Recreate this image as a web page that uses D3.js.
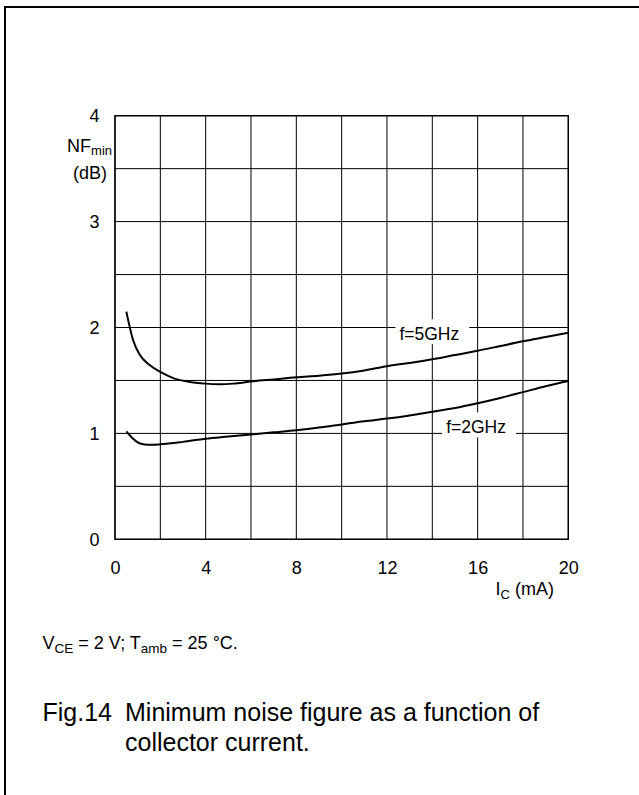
<!DOCTYPE html>
<html>
<head>
<meta charset="utf-8">
<script src="https://cdn.jsdelivr.net/npm/d3@7"></script>
<style>
  html, body { margin: 0; padding: 0; background: #fff; }
  svg { display: block; font-family: "Liberation Sans", Arial, Helvetica, sans-serif; }
  .grid line { stroke: #000; stroke-width: 1; }
  .curve { fill: none; stroke: #000; stroke-width: 2; }
  .tick text { font-size: 18px; fill: #000; }
</style>
</head>
<body>
<script>
/* ── Data (I_C in mA, NF_min in dB) ── */
const ic5  = [0.5, 0.8, 1.1, 1.5, 2, 2.6, 3.2, 4, 4.6, 5.2, 6, 7, 8, 9, 10, 11, 12, 13, 14, 15, 16, 17, 18, 19, 20];
const nf5  = [2.15, 1.88, 1.74, 1.65, 1.58, 1.52, 1.49, 1.47, 1.465, 1.47, 1.49, 1.51, 1.53, 1.545, 1.565, 1.595, 1.635, 1.665, 1.70, 1.74, 1.78, 1.825, 1.87, 1.91, 1.95];
const ic2  = [0.5, 0.8, 1.0, 1.3, 1.6, 2, 3, 4, 5, 6, 7, 8, 9, 10, 11, 12, 13, 14, 15, 16, 17, 18, 19, 20];
const nf2  = [1.02, 0.95, 0.915, 0.895, 0.893, 0.897, 0.92, 0.95, 0.97, 0.99, 1.01, 1.03, 1.055, 1.085, 1.115, 1.14, 1.17, 1.205, 1.24, 1.285, 1.335, 1.39, 1.445, 1.495];

const xTicks = [0, 4, 8, 12, 16, 20];
const yTicks = [0, 1, 2, 3, 4];
const xGrid  = d3.range(0, 20.01, 2);
const yGrid  = d3.range(0, 4.01, 0.5);

// curve labels: text and anchor point in data units
const labels = [
  { text: 'f=5GHz', x: 12.55, y: 1.88 },
  { text: 'f=2GHz', x: 14.61, y: 1.0 }
];

/* ── Geometry ── */
const W = 639, H = 795;
const PL = 115, PR = 568.3, PT = 115.7, PB = 539.3;

const svg = d3.select('body').append('svg')
  .attr('width', W).attr('height', H);

// outer frame, clipped on the right and bottom like the scan
svg.append('rect')
  .attr('x', 5).attr('y', 7)
  .attr('width', W + 10).attr('height', H + 10)
  .attr('fill', 'none').attr('stroke', '#000').attr('stroke-width', 2);

const x = d3.scaleLinear().domain([0, 20]).range([PL, PR]);
const y = d3.scaleLinear().domain([0, 4]).range([PB, PT]);

/* ── Grid ── */
const grid = svg.append('g').attr('class', 'grid');
grid.selectAll('.gx').data(xGrid).join('line')
  .attr('x1', d => x(d)).attr('x2', d => x(d))
  .attr('y1', PT).attr('y2', PB);
grid.selectAll('.gy').data(yGrid).join('line')
  .attr('x1', PL).attr('x2', PR)
  .attr('y1', d => y(d)).attr('y2', d => y(d));

svg.append('rect')
  .attr('x', PL).attr('y', PT)
  .attr('width', PR - PL).attr('height', PB - PT)
  .attr('fill', 'none').attr('stroke', '#000').attr('stroke-width', 1.4);

/* ── Curve labels with white knock-out boxes ── */
const lab = svg.append('g');
labels.forEach(l => {
  const g = lab.append('g');
  const box = g.append('rect').attr('fill', '#fff');
  const t = g.append('text')
    .attr('x', x(l.x)).attr('y', y(l.y))
    .attr('font-size', 17.5)
    .text(l.text);
  const b = t.node().getBBox();
  box.attr('x', b.x - 4).attr('y', b.y - 5)
    .attr('width', b.width + 14).attr('height', b.height + 5);
});

/* ── Curves ── */
const line = d3.line()
  .x(d => x(d[0])).y(d => y(d[1]))
  .curve(d3.curveMonotoneX);

svg.append('path').attr('class', 'curve')
  .attr('d', line(d3.zip(ic5, nf5)));
svg.append('path').attr('class', 'curve')
  .attr('d', line(d3.zip(ic2, nf2)));

/* ── Axes (labels only) ── */
const xAxis = svg.append('g')
  .attr('transform', `translate(0,${PB})`)
  .call(d3.axisBottom(x).tickValues(xTicks).tickSize(0).tickPadding(22).tickFormat(d3.format('d')));
const yAxis = svg.append('g')
  .attr('transform', `translate(${PL},0)`)
  .call(d3.axisLeft(y).tickValues(yTicks).tickSize(0).tickPadding(15.5).tickFormat(d3.format('d')));
[xAxis, yAxis].forEach(a => {
  a.select('.domain').remove();
  a.attr('font-family', null).attr('font-size', null);
});

// y axis title
const yt = svg.append('text')
  .attr('x', 112).attr('y', 152)
  .attr('text-anchor', 'end').attr('font-size', 18);
yt.append('tspan').text('NF');
yt.append('tspan').attr('font-size', 13).attr('dy', 3).text('min');
svg.append('text')
  .attr('x', 107).attr('y', 179)
  .attr('text-anchor', 'end').attr('font-size', 18)
  .text('(dB)');

// x axis title
const xt = svg.append('text')
  .attr('x', 554).attr('y', 595)
  .attr('text-anchor', 'end').attr('font-size', 18);
xt.append('tspan').text('I');
xt.append('tspan').attr('font-size', 13).attr('dy', 4).text('C');
xt.append('tspan').attr('dy', -4).text(' (mA)');

/* ── Conditions and caption ── */
const cond = svg.append('text')
  .attr('x', 42.5).attr('y', 649).attr('font-size', 18);
cond.append('tspan').text('V');
cond.append('tspan').attr('font-size', 13.5).attr('dy', 4).text('CE');
cond.append('tspan').attr('dy', -4).text(' = 2 V; T');
cond.append('tspan').attr('font-size', 13.5).attr('dy', 4).text('amb');
cond.append('tspan').attr('dy', -4).text(' = 25 °C.');

svg.append('text')
  .attr('x', 42.5).attr('y', 720.5).attr('font-size', 25)
  .text('Fig.14');
svg.append('text')
  .attr('x', 125).attr('y', 720.5).attr('font-size', 25)
  .text('Minimum noise figure as a function of');
svg.append('text')
  .attr('x', 125).attr('y', 751).attr('font-size', 25)
  .text('collector current.');
</script>
</body>
</html>
